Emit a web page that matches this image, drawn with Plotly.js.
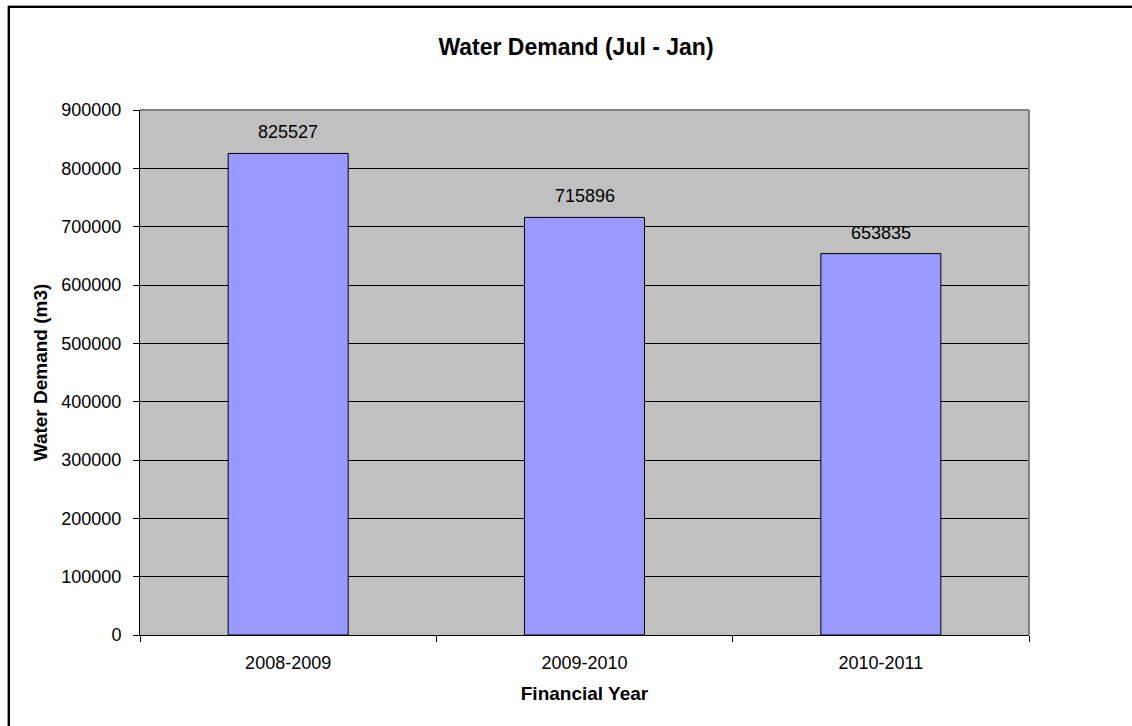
<!DOCTYPE html>
<html>
<head>
<meta charset="utf-8">
<script src="https://cdn.plot.ly/plotly-3.0.1.min.js"></script>
<style>
  html, body { margin: 0; padding: 0; background: #ffffff; overflow: hidden; }
  #wrap { position: relative; width: 1132px; height: 726px; overflow: hidden; }
  #chart { position: absolute; left: 0; top: 0; width: 1132px; height: 726px; }
  .fl { position: absolute; background: #000; pointer-events: none; }
  #fleft { left: 8px; top: 6px; width: 2px; height: 720px; box-shadow: -1px 0 0 #9a9a9a; }
  #ftop { left: 8px; top: 6px; width: 1124px; height: 2px; box-shadow: 0 -1px 0 #9a9a9a; }
</style>
</head>
<body>
<div id="wrap">
  <div id="chart"></div>
  <div id="fleft" class="fl"></div>
  <div id="ftop" class="fl"></div>
</div>
<script>
const years = ["2008-2009", "2009-2010", "2010-2011"];
const demand = [825527, 715896, 653835];
const yTicks = [0, 100000, 200000, 300000, 400000, 500000, 600000, 700000, 800000, 900000];

const FONT = "Liberation Sans, Arial, sans-serif";

const trace = {
  type: "bar",
  x: years,
  y: demand,
  marker: { color: "#9999FF", line: { color: "#000000", width: 1 } },
  hoverinfo: "x+y"
};

const annotations = years.map((c, i) => ({
  x: c, y: demand[i], xref: "x", yref: "y",
  text: String(demand[i]), showarrow: false,
  yanchor: "middle", yshift: 21,
  font: { family: FONT, size: 18, color: "#000" }
}));

const layout = {
  width: 1132, height: 726,
  margin: { l: 140, r: 103, t: 110, b: 91, pad: 0 },
  paper_bgcolor: "#ffffff",
  plot_bgcolor: "#C0C0C0",
  showlegend: false,
  bargap: 0.595,
  font: { family: FONT, size: 18, color: "#000" },
  title: {
    text: "<b>Water Demand (Jul - Jan)</b>",
    font: { family: FONT, size: 23, color: "#000" },
    x: 576 / 1132, xref: "container", xanchor: "center",
    y: 1 - 47 / 726, yref: "container", yanchor: "middle"
  },
  xaxis: {
    type: "category",
    showgrid: false,
    showline: true, linecolor: "#000", linewidth: 1,
    ticks: "outside", tickson: "boundaries", ticklen: 6, tickcolor: "#000", tickwidth: 1,
    ticklabelstandoff: 11,
    tickfont: { family: FONT, size: 18, color: "#000" },
    title: { text: "<b>Financial Year</b>", font: { family: FONT, size: 19, color: "#000" }, standoff: 15 },
    zeroline: false
  },
  yaxis: {
    range: [0, 900000],
    tickmode: "array", tickvals: yTicks, ticktext: yTicks.map(String),
    showgrid: true, gridcolor: "#000000", gridwidth: 1,
    showline: true, linecolor: "#000", linewidth: 1,
    ticks: "outside", ticklen: 6, tickcolor: "#000", tickwidth: 1,
    ticklabelstandoff: 8,
    tickfont: { family: FONT, size: 18, color: "#000" },
    title: { text: "<b>Water Demand (m3)</b>", font: { family: FONT, size: 19, color: "#000" }, standoff: 8 },
    zeroline: false
  },
  shapes: [
    { type: "line", xref: "paper", yref: "paper", x0: 0, x1: 1, y0: 1, y1: 1, line: { color: "#808080", width: 2 }, layer: "above" },
    { type: "line", xref: "paper", yref: "paper", x0: 1, x1: 1, y0: 0, y1: 1, line: { color: "#808080", width: 2 }, layer: "above" }
  ],
  annotations: annotations
};

Plotly.newPlot("chart", [trace], layout, { displayModeBar: false, staticPlot: true });
</script>
</body>
</html>
